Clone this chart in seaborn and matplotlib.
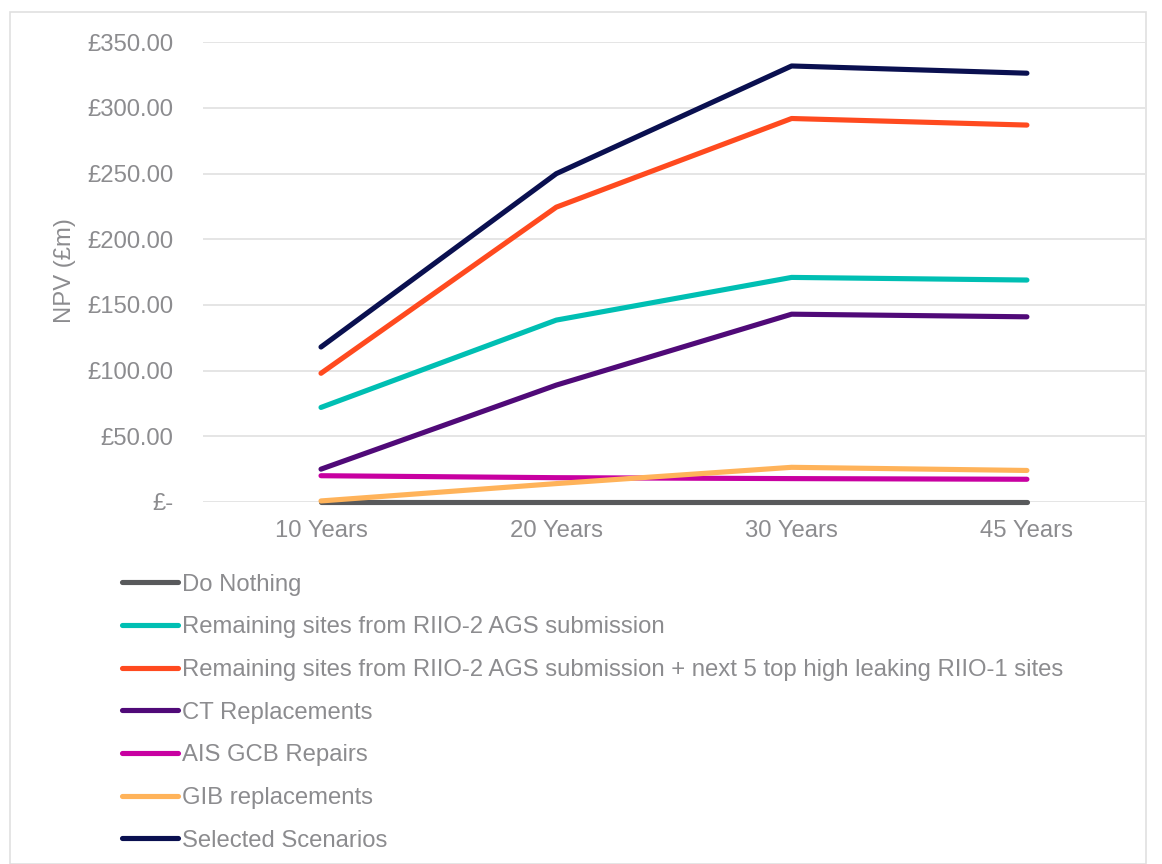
import pandas as pd
import seaborn as sns
import matplotlib.pyplot as plt
from matplotlib.ticker import FuncFormatter

periods = ["10 Years", "20 Years", "30 Years", "45 Years"]

do_nothing = [0, 0, 0, 0]
remaining_ags = [72, 138.5, 171, 169]
remaining_plus_top5 = [98, 224.5, 292, 287]
ct_replacements = [25, 89, 143, 141]
ais_gcb_repairs = [20, 18.5, 17.8, 17.3]
gib_replacements = [0.8, 14, 26.4, 24]
selected_scenarios = [118, 250, 332, 326.5]

series_names = [
    "Do Nothing",
    "Remaining sites from RIIO-2 AGS submission",
    "Remaining sites from RIIO-2 AGS submission + next 5 top high leaking RIIO-1 sites",
    "CT Replacements",
    "AIS GCB Repairs",
    "GIB replacements",
    "Selected Scenarios",
]
series_values = [do_nothing, remaining_ags, remaining_plus_top5, ct_replacements,
                 ais_gcb_repairs, gib_replacements, selected_scenarios]
colors = ["#58595B", "#00BFB3", "#FF4A1F", "#500A78", "#C800A1", "#FFB35A", "#0A1050"]

rows = []
for name, vals in zip(series_names, series_values):
    for p, v in zip(periods, vals):
        rows.append({"Period": p, "Scenario": name, "NPV": v})
df = pd.DataFrame(rows)

sns.set_theme(style="white")
plt.rcParams["font.family"] = ["Liberation Sans", "DejaVu Sans"]
text_grey = "#8C8C8F"
fs = 17.2

fig = plt.figure(figsize=(11.62, 8.64), dpi=100)
ax = fig.add_axes([0.175, 0.419, 0.81, 0.532])

sns.lineplot(data=df, x="Period", y="NPV", hue="Scenario", hue_order=series_names,
             palette=colors, linewidth=3.7, ax=ax, sort=False, legend=False)
for line in ax.lines:
    line.set_solid_capstyle("round")
    line.set_clip_on(False)

ax.set_ylim(0, 350)
ax.set_xlim(-0.5, 3.5)
ax.set_yticks(range(0, 351, 50))
ax.yaxis.set_major_formatter(FuncFormatter(lambda v, _: "£-" if v == 0 else f"£{v:.2f}"))
ax.grid(axis="y", color="#E3E3E3", linewidth=1.3)
ax.set_axisbelow(True)
for s in ax.spines.values():
    s.set_visible(False)
ax.tick_params(axis="both", length=0, labelsize=fs, labelcolor=text_grey)
ax.tick_params(axis="y", pad=21.5)
ax.tick_params(axis="x", pad=13)
ax.set_xlabel("")
ax.set_ylabel("NPV (£m)", fontsize=fs, color=text_grey)
ax.yaxis.set_label_coords(-0.135, 0.504)

handles = [plt.Line2D([], [], color=c, linewidth=3.7, solid_capstyle="round") for c in colors]
fig.legend(handles, series_names, loc="upper left", bbox_to_anchor=(0.0965, 0.347),
           frameon=False, fontsize=fs, labelcolor=text_grey, handlelength=2.35,
           handletextpad=0.17, labelspacing=0.865, borderaxespad=0)

# light border around the whole chart
fig.add_artist(plt.Rectangle((0.009, 0.0), 0.977, 0.986, transform=fig.transFigure,
                             fill=False, edgecolor="#E0E0E0", linewidth=1.2))

fig.savefig("out.png", dpi=100)
